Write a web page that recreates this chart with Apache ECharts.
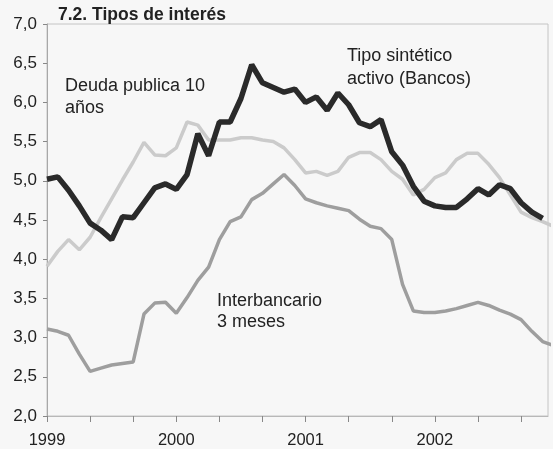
<!DOCTYPE html>
<html>
<head>
<meta charset="utf-8">
<script src="https://cdn.jsdelivr.net/npm/echarts@6/dist/echarts.min.js"></script>
<style>
  html, body { margin: 0; padding: 0; background: #f7f7f7; }
  #chart { width: 553px; height: 449px; }
</style>
</head>
<body>
<div id="chart"></div>
<script>
// Monthly series, January 1999 (month 0) to late 2002
const yearLabels = { 0: '1999', 12: '2000', 24: '2001', 36: '2002' };

const tipoSintetico = [
  5.02, 5.05, 4.88, 4.68, 4.46, 4.37, 4.25, 4.54, 4.53, 4.72, 4.91, 4.96,
  4.89, 5.08, 5.60, 5.32, 5.75, 5.75, 6.05, 6.48, 6.25, 6.19, 6.13, 6.17,
  6.00, 6.07, 5.90, 6.12, 5.97, 5.74, 5.69, 5.78, 5.37, 5.20, 4.93, 4.74,
  4.68, 4.66, 4.66, 4.77, 4.90, 4.82, 4.95, 4.90, 4.72, 4.60, 4.52
];

const deudaPublica = [
  3.91, 4.10, 4.25, 4.12, 4.28, 4.53, 4.77, 5.01, 5.24, 5.49, 5.33, 5.32,
  5.42, 5.75, 5.71, 5.52, 5.52, 5.52, 5.55, 5.55, 5.52, 5.50, 5.42, 5.27,
  5.10, 5.12, 5.07, 5.12, 5.30, 5.36, 5.36, 5.27, 5.12, 5.02, 4.82, 4.89,
  5.04, 5.10, 5.27, 5.35, 5.35, 5.21, 5.04, 4.82, 4.60, 4.53, 4.48, 4.42
];

const interbancario = [
  3.11, 3.08, 3.03, 2.79, 2.57, 2.61, 2.65, 2.67, 2.69, 3.30, 3.44, 3.45,
  3.31, 3.51, 3.73, 3.90, 4.25, 4.48, 4.54, 4.76, 4.84, 4.96, 5.08, 4.94,
  4.77, 4.72, 4.68, 4.65, 4.62, 4.51, 4.42, 4.39, 4.25, 3.68, 3.34, 3.32,
  3.32, 3.34, 3.37, 3.41, 3.45, 3.41, 3.35, 3.30, 3.23, 3.08, 2.95, 2.90
];

const toPairs = arr => arr.map((v, i) => [i, v]);

const textColor = '#222';
const font = 'Liberation Sans, Arial, sans-serif';

const chart = echarts.init(document.getElementById('chart'));
chart.setOption({
  backgroundColor: '#f7f7f7',
  animation: false,
  grid: {
    left: 47, right: 5, top: 24, bottom: 32,
    show: true, borderColor: '#c4c4c4', borderWidth: 1
  },
  title: {
    text: '7.2. Tipos de interés',
    left: 53, top: 1,
    textStyle: { fontFamily: font, fontSize: 17.5, fontWeight: 'bold', color: textColor }
  },
  xAxis: {
    type: 'value', min: 0, max: 46.5, interval: 4,
    axisLine: { show: true, lineStyle: { color: '#b8b8b8' } },
    axisTick: { show: true, length: 6, lineStyle: { color: '#888' } },
    splitLine: { show: false },
    axisLabel: {
      showMaxLabel: false,
      margin: 16,
      fontFamily: font, fontSize: 16.5, color: textColor,
      formatter: v => yearLabels[v] || ''
    }
  },
  yAxis: {
    type: 'value', min: 2, max: 7, interval: 0.5,
    axisLine: { show: true, lineStyle: { color: '#a8a8a8' } },
    axisTick: { show: true, length: 4, lineStyle: { color: '#888' } },
    splitLine: { show: false },
    axisLabel: {
      margin: 10,
      fontFamily: font, fontSize: 17, color: textColor,
      formatter: v => v.toFixed(1).replace('.', ',')
    }
  },
  series: [
    {
      name: 'Deuda publica 10 años', type: 'line', data: toPairs(deudaPublica),
      showSymbol: false, lineStyle: { color: '#cbcbcb', width: 3.5 }, z: 1
    },
    {
      name: 'Interbancario 3 meses', type: 'line', data: toPairs(interbancario),
      showSymbol: false, lineStyle: { color: '#9e9e9e', width: 3.5 }, z: 2
    },
    {
      name: 'Tipo sintético activo (Bancos)', type: 'line', data: toPairs(tipoSintetico),
      showSymbol: false, lineStyle: { color: '#2a2a2a', width: 5.5 }, z: 3
    }
  ],
  graphic: [
    {
      type: 'text', left: 65, top: 75,
      style: { text: 'Deuda publica 10\naños', font: '18px ' + font, fill: textColor, lineHeight: 22 }
    },
    {
      type: 'text', left: 347, top: 45,
      style: { text: 'Tipo sintético\nactivo (Bancos)', font: '18px ' + font, fill: textColor, lineHeight: 23 }
    },
    {
      type: 'text', left: 217, top: 291,
      style: { text: 'Interbancario\n3 meses', font: '18px ' + font, fill: textColor, lineHeight: 21 }
    }
  ]
});
</script>
</body>
</html>
